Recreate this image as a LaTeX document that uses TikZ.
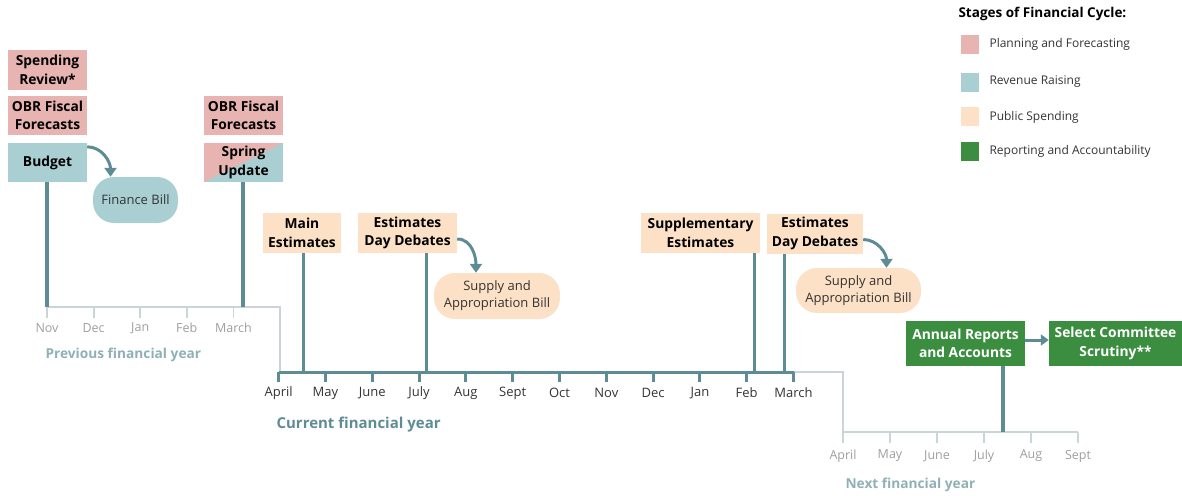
\documentclass[tikz,border=0pt]{standalone}
\usepackage{fontspec}
\setmainfont{Open Sans}
\usetikzlibrary{arrows.meta,calc}
\definecolor{planc}{HTML}{E8B4B2}
\definecolor{revc}{HTML}{A9CFD3}
\definecolor{spendc}{HTML}{FCE1C6}
\definecolor{repc}{HTML}{3B8D40}
\definecolor{linec}{HTML}{5E8C94}
\definecolor{axislight}{HTML}{C9D5D7}
\definecolor{monthlight}{HTML}{9E9E9E}
\definecolor{yearlight}{HTML}{8FB1B6}
\definecolor{textdark}{HTML}{333333}

\begin{document}
\begin{tikzpicture}[x=1pt,y=-1pt,
  box/.style={inner sep=0pt, align=center, text=black,
    font=\bfseries\fontsize{13.8}{18.5}\selectfont},
  greenbox/.style={box, fill=repc, text=white},
  pill/.style={inner sep=0pt, align=center, text=textdark, rounded corners=21pt,
    font=\fontsize{13}{17}\selectfont},
  event/.style={draw=linec, line width=3.2pt},
  curaxis/.style={draw=linec, line width=3pt},
  lightaxis/.style={draw=axislight, line width=1.8pt},
  flow/.style={draw=linec, line width=3pt,
    -{Triangle[length=9pt,width=12pt]}},
  curmonth/.style={text=textdark, font=\fontsize{13}{15}\selectfont},
  oldmonth/.style={text=monthlight, font=\fontsize{12.5}{15}\selectfont},
  yearlabel/.style={anchor=west, font=\bfseries\fontsize{13.7}{16}\selectfont},
  swatch/.style={minimum width=18pt, minimum height=19pt, inner sep=0pt},
  legtext/.style={anchor=west, text=textdark, font=\fontsize{12}{14}\selectfont}
]
\useasboundingbox (0,0) rectangle (1182,495);

% ---------- axes ----------
% previous financial year
\draw[lightaxis] (47,307) -- (280,307) -- (280,372);
\foreach \m [count=\i from 0] in {Nov,Dec,Jan,Feb,March}{
  \draw[lightaxis] (47+46.6*\i,307) -- ++(0,11);
  \node[oldmonth] (pm\i) at (47+46.6*\i,328) {\m};
}
% current financial year
\draw[lightaxis] (793.5,372) -- (843,372) -- (843,432) -- (1078,432);
\draw[curaxis] (278.7,372) -- (793.5,372);
\foreach \m [count=\i from 0] in {April,May,June,July,Aug,Sept,Oct,Nov,Dec,Jan,Feb,March}{
  \draw[curaxis] (278.7+46.8*\i,372) -- ++(0,10);
  \node[curmonth] (cm\i) at (278.7+46.8*\i,393) {\m};
}
% next financial year
\foreach \m [count=\i from 0] in {April,May,June,July,Aug,Sept}{
  \draw[lightaxis] (843+47*\i,432) -- ++(0,11);
  \node[oldmonth] (nm\i) at (843+47*\i,456) {\m};
}

\node[yearlabel, text=yearlight] (prevyear) at (42,355) {Previous financial year};
\node[yearlabel, text=linec, font=\bfseries\fontsize{15}{18}\selectfont] (curyear) at (273,425) {Current financial year};
\node[yearlabel, text=yearlight] (nextyear) at (842,485) {Next financial year};

% ---------- previous year events ----------
\node[box, fill=planc, minimum width=79pt, minimum height=40pt] (spendrev) at (47.5,70) {Spending\\Review*};
\node[box, fill=planc, minimum width=79pt, minimum height=39pt] (obr1) at (47.5,115.5) {OBR Fiscal\\Forecasts};
\node[box, fill=revc, minimum width=79pt, minimum height=39pt] (budget) at (47.5,162.5) {Budget};
\node[pill, fill=revc, minimum width=85pt, minimum height=46pt] (finbill) at (135.5,200) {Finance Bill};

\node[box, fill=planc, minimum width=79pt, minimum height=39pt] (obr2) at (243.5,115.5) {OBR Fiscal\\Forecasts};
\node[box, fill=revc, minimum width=79pt, minimum height=39pt,
  path picture={\fill[planc] (path picture bounding box.south west)
    -- (path picture bounding box.north west)
    -- (path picture bounding box.north east) -- cycle;}] (spring) at (243.5,162.5) {Spring\\Update};

\coordinate (eBudget) at (47,307);
\coordinate (eSpring) at (243,307);
\draw[event] (eBudget) -- (eBudget |- budget.south);
\draw[event] (eSpring) -- (eSpring |- spring.south);
\draw[flow] ([yshift=-4pt]budget.north east) to[out=0,in=90] ([xshift=-25pt]finbill.north);

% ---------- current year events ----------
\node[box, fill=spendc, minimum width=78pt, minimum height=40pt] (mainest) at (302,233) {Main\\Estimates};
\node[box, fill=spendc, minimum width=99pt, minimum height=40pt] (edd1) at (407.5,233) {Estimates\\Day Debates};
\node[pill, fill=spendc, minimum width=126pt, minimum height=46pt] (sab1) at (497,296) {Supply and\\Appropriation Bill};

\node[box, fill=spendc, minimum width=119pt, minimum height=40pt] (suppest) at (700.5,233) {Supplementary\\Estimates};
\node[box, fill=spendc, minimum width=96pt, minimum height=40pt] (edd2) at (815,233.5) {Estimates\\Day Debates};
\node[pill, fill=spendc, minimum width=125pt, minimum height=45pt] (sab2) at (858.5,290.5) {Supply and\\Appropriation Bill};

\coordinate (eMain) at (303.6,372);
\coordinate (eEdd1) at (426.8,372);
\coordinate (eSupp) at (754.4,372);
\coordinate (eEdd2) at (784.6,372);
\draw[event] (eMain) -- (eMain |- mainest.south);
\draw[event] (eEdd1) -- (eEdd1 |- edd1.south);
\draw[event] (eSupp) -- (eSupp |- suppest.south);
\draw[event] (eEdd2) -- (eEdd2 |- edd2.south);
\draw[flow] ([yshift=-6pt]edd1.east) to[out=0,in=90] ([xshift=-21pt]sab1.north);
\draw[flow] ([yshift=-6pt]edd2.east) to[out=0,in=90] ([xshift=28pt]sab2.north);

% ---------- next year events ----------
\node[greenbox, minimum width=119pt, minimum height=45pt] (annual) at (965.5,343.5) {Annual Reports\\and Accounts};
\node[greenbox, minimum width=133pt, minimum height=45pt] (select) at (1115.5,343.5) {Select Committee\\Scrutiny**};
\coordinate (eAnnual) at (1003,432);
\draw[event] (eAnnual) -- (eAnnual |- annual.south);
\draw[draw=linec, line width=3pt, -{Triangle[length=8pt,width=11pt]}]
  ([yshift=3.5pt]annual.east) -- ([yshift=3.5pt]select.west);

% ---------- legend ----------
\node[anchor=west, text=black, font=\bfseries\fontsize{13.5}{16}\selectfont] (legtitle) at (955,14) {Stages of Financial Cycle:};
\node[swatch, fill=planc] (sw1) at (970,44.5) {};
\node[swatch, fill=revc] (sw2) at (970,82.5) {};
\node[swatch, fill=spendc] (sw3) at (970,116.5) {};
\node[swatch, fill=repc] (sw4) at (970,151) {};
\node[legtext] (lg1) at (986,44) {Planning and Forecasting};
\node[legtext] (lg2) at (986,82) {Revenue Raising};
\node[legtext] (lg3) at (986,117) {Public Spending};
\node[legtext] (lg4) at (986,151) {Reporting and Accountability};
\end{tikzpicture}
\end{document}
